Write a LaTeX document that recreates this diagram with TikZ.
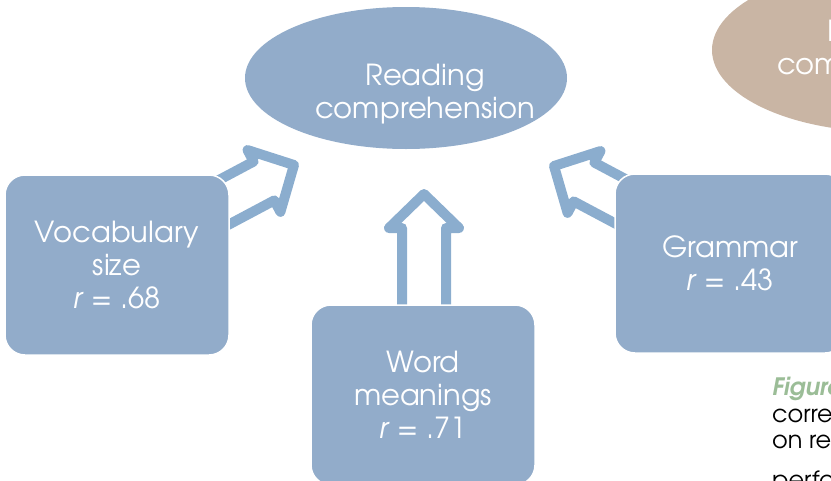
\documentclass[tikz,border=0pt]{standalone}
\usepackage{fontspec}
\setmainfont{texgyreadventor}[Extension=.otf,UprightFont=*-regular,ItalicFont=*-italic,
  BoldFont=*-bold,BoldItalicFont=*-bolditalic]
\usepackage{xcolor}
\usetikzlibrary{shapes.geometric,calc,positioning}
\definecolor{boxblue}{RGB}{146,172,202}
\definecolor{arrowblue}{RGB}{139,173,206}
\definecolor{rcbrown}{RGB}{201,181,164}
\definecolor{capgreen}{RGB}{155,189,151}
% hollow block arrow: tip, angle, shaft length
\newcommand{\hollowarrow}[3]{%
  \draw[arrowline,shift={(#1)},rotate=#2] (0,0) -- (-34,-35) -- (-34,-22) -- (-#3,-22)
    -- (-#3,22) -- (-34,22) -- (-34,35) -- cycle;}

\begin{document}
\begin{tikzpicture}[x=1pt,y=-1pt,
  arrowline/.style={draw=arrowblue,line width=10pt,line join=round},
  boxtext/.style={align=center,text=white,inner sep=0pt,font=\fontsize{29}{33}\selectfont},
  factorbox/.style={boxtext,rectangle,rounded corners=20pt,fill=boxblue,draw=white,line width=1.5pt,
    minimum width=224pt,minimum height=180pt},
  outcome/.style={boxtext,ellipse,fill=boxblue,minimum width=322pt,minimum height=142pt}]
  \clip (0,0) rectangle (831,480);
  % arrows first, the boxes hide their tails
  \coordinate (tipL) at (294,165);
  \coordinate (tipM) at (424,194);
  \coordinate (tipR) at (554,166);
  \hollowarrow{tipL}{28}{110}
  \hollowarrow{tipM}{90}{125}
  \hollowarrow{tipR}{152}{110}
  \node[outcome] (read) at (406,78) {};
  \node[boxtext] (readlbl) at (425,94) {Reading\\comprehension};
  \node[factorbox] (vocab) at (117,265) {Vocabulary\\size\\\textit{r} = .68};
  \node[factorbox] (word) at (423,395) {Word\\meanings\\\textit{r} = .71};
  \node[factorbox,minimum width=230pt,minimum height=179pt] (gram) at (730,263.5) {Grammar\\\textit{r} = .43};
  \node[outcome,fill=rcbrown,minimum width=350pt,minimum height=164pt] (readtoo) at (887,50) {Reading\\comprehension};
  \node[anchor=north west,align=left,inner sep=0pt,font=\fontsize{24}{26.5}\selectfont] (cap) at (772,377)
    {{\color{capgreen}\bfseries\itshape Figure 1.}\\correlations\\on reading\\[13pt]performance};
\end{tikzpicture}
\end{document}
